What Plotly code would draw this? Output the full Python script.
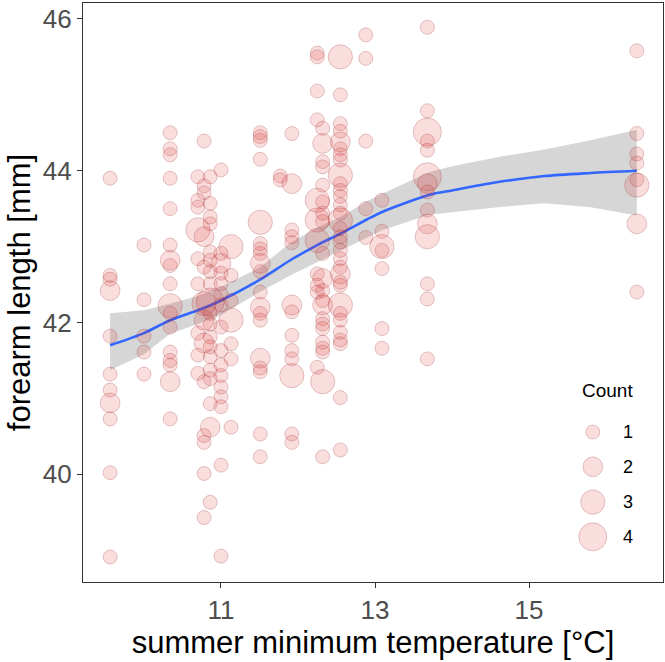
import plotly.graph_objects as go
import numpy as np

# ---- data ----
temperature = (
    [9.56] * 11 + [10.0] * 5 + [10.34] * 17 + [10.7] * 9 + [10.78] * 13 + [10.86] * 19
    + [11.0] * 16 + [11.13] * 7 + [11.51] * 19 + [11.77] * 2 + [11.92] * 13
    + [12.25] * 11 + [12.32] * 21 + [12.55] * 32 + [12.88] * 5 + [13.09] * 7
    + [13.68] * 14 + [16.4] * 8
)
forearm = [
    # 9.56
    43.90, 42.62, 42.57, 42.42, 41.82, 41.32, 41.11, 40.94, 40.73, 40.02, 38.91,
    # 10.0
    43.02, 42.30, 41.82, 41.61, 41.32,
    # 10.34
    44.50, 44.29, 44.21, 43.90, 43.50, 43.02, 42.82, 42.75, 42.51, 42.22, 42.12,
    41.94, 41.61, 41.50, 41.44, 41.22, 40.73,
    # 10.7
    43.92, 43.61, 43.52, 43.22, 42.84, 42.51, 41.86, 41.57, 41.33,
    # 10.78
    44.39, 43.71, 43.13, 42.73, 42.25, 42.03, 41.73, 41.22, 40.51, 40.42, 40.01, 39.43, 43.80,
    # 10.86
    43.92, 43.57, 43.39, 43.30, 42.93, 42.82, 42.67, 42.51, 42.27, 42.12, 41.98,
    41.81, 41.68, 41.55, 41.37, 41.26, 40.93, 40.62, 39.63,
    # 11.0
    44.01, 42.91, 42.78, 42.65, 42.51, 42.38, 42.23, 41.94, 41.63, 41.44, 41.30,
    41.15, 41.02, 40.89, 40.12, 38.92,
    # 11.13
    43.00, 42.62, 42.29, 42.03, 41.72, 41.52, 40.62,
    # 11.51
    44.50, 44.40, 44.15, 43.32, 43.04, 42.97, 42.91, 42.78, 42.67, 42.40, 42.20,
    42.12, 42.03, 41.53, 41.40, 41.35, 40.53, 40.23, 44.45,
    # 11.77
    43.93, 43.88,
    # 11.92
    44.49, 43.83, 43.22, 43.13, 42.23, 42.14, 41.83, 41.63, 41.52, 41.30, 40.53, 40.42, 43.05,
    # 12.25
    45.55, 45.50, 45.05, 44.67, 43.61, 43.35, 43.08, 42.64, 42.49, 42.40, 41.41,
    # 12.32
    44.56, 44.36, 44.12, 44.05, 43.81, 43.59, 43.44, 43.33, 42.91, 42.58, 42.42,
    42.29, 42.23, 42.05, 41.98, 41.92, 41.74, 41.66, 41.61, 41.22, 40.23,
    # 12.55
    45.50, 45.00, 44.62, 44.52, 44.38, 44.29, 44.21, 44.14, 43.94, 43.83, 43.74,
    43.66, 43.55, 43.44, 43.35, 43.24, 43.13, 43.06, 42.95, 42.84, 42.73, 42.64,
    42.53, 42.49, 42.23, 42.12, 42.03, 41.87, 41.77, 41.72, 41.01, 40.32,
    # 12.88
    45.79, 45.48, 44.39, 43.50, 43.12,
    # 13.09
    43.61, 43.20, 43.00, 42.95, 42.71, 41.92, 41.66,
    # 13.68
    45.89, 44.79, 44.51, 44.39, 44.27, 43.92, 43.83, 43.72, 43.48, 43.30, 43.13,
    42.51, 42.31, 41.52,
    # 16.4
    45.58, 44.49, 44.22, 44.10, 43.88, 43.81, 43.30, 42.40,
]
count = [
    1, 1, 1, 2, 1, 1, 1, 2, 1, 1, 1,
    1, 1, 1, 1, 1,
    1, 1, 1, 1, 1, 1, 2, 1, 1, 3, 1, 1, 1, 1, 1, 2, 1,
    1, 1, 1, 3, 1, 1, 1, 1, 1,
    1, 1, 2, 1, 3, 2, 2, 1, 1, 1, 1, 1, 1,
    1, 1, 1, 1, 1, 1, 1, 1, 4, 1, 1, 1, 1, 1, 1, 1, 1, 2, 1,
    1, 1, 2, 1, 1, 1, 1, 1, 1, 1, 1, 1, 1, 1, 1, 1,
    3, 1, 1, 3, 1, 1, 1,
    1, 1, 1, 3, 1, 1, 1, 2, 1, 1, 2, 1, 1, 2, 1, 1, 1, 1, 1,
    1, 1,
    1, 2, 1, 1, 2, 1, 1, 1, 1, 3, 1, 1, 1,
    1, 1, 1, 1, 3, 3, 3, 1, 1, 1, 1,
    1, 2, 1, 1, 1, 1, 1, 1, 1, 2, 1, 1, 2, 1, 1, 1, 1, 1, 1, 3, 1,
    3, 1, 1, 1, 2, 1, 1, 1, 3, 1, 1, 1, 1, 1, 3, 1, 1, 1, 1, 1, 1, 2, 1, 1, 3, 1,
    1, 1, 1, 1, 1, 1,
    1, 1, 1, 1, 1,
    1, 1, 3, 1, 1, 1, 1,
    1, 1, 4, 1, 1, 4, 2, 1, 1, 2, 3, 1, 1, 1,
    1, 1, 1, 1, 1, 3, 2, 1,
]

# loess smooth and its confidence band
smooth_x = [9.56, 10.0, 10.34, 10.7, 11.0, 11.5, 11.9, 12.25, 12.55, 12.9, 13.1,
            13.7, 14.0, 14.6, 15.2, 15.8, 16.4]
smooth_y = [41.70, 41.86, 42.03, 42.16, 42.29, 42.56, 42.82, 43.02, 43.17, 43.36,
            43.46, 43.68, 43.74, 43.85, 43.93, 43.97, 44.00]
ci_lo = [41.37, 41.58, 41.85, 41.98, 42.10, 42.40, 42.62, 42.80, 42.95, 43.12,
         43.22, 43.42, 43.45, 43.52, 43.57, 43.52, 43.41]
ci_hi = [42.12, 42.16, 42.25, 42.35, 42.47, 42.72, 43.05, 43.25, 43.39, 43.60,
         43.70, 43.98, 44.06, 44.18, 44.28, 44.40, 44.54]

legend_counts = [1, 2, 3, 4]
x_ticks = [11, 13, 15]
y_ticks = [40, 42, 44, 46]

# ---- styling ----
FONT = "Liberation Sans, Arial, sans-serif"
BASE_D = 14  # diameter in px for count 1 (area-proportional)
fill_col = "rgba(225,45,45,0.22)"
edge_col = "rgba(150,30,30,0.35)"

def diam(c):
    return BASE_D * np.sqrt(c)

fig = go.Figure()

fig.add_trace(go.Scatter(
    x=smooth_x + smooth_x[::-1], y=ci_hi + ci_lo[::-1],
    fill="toself", fillcolor="rgba(153,153,153,0.4)", line=dict(width=0),
    mode="lines", hoverinfo="skip", showlegend=False,
))
fig.add_trace(go.Scatter(
    x=smooth_x, y=smooth_y, mode="lines",
    line=dict(color="#3366FF", width=2.6, shape="spline", smoothing=0.8),
    showlegend=False,
))
fig.add_trace(go.Scatter(
    x=temperature, y=forearm, mode="markers",
    marker=dict(size=[diam(c) for c in count], sizemode="diameter",
                color=fill_col, line=dict(color=edge_col, width=1)),
    showlegend=False,
))

# manual size legend on an overlay axis (0..1 of the plot area)
leg_y = [0.259, 0.199, 0.138, 0.078]
fig.add_trace(go.Scatter(
    x=[0.879] * len(legend_counts), y=leg_y, mode="markers",
    xaxis="x2", yaxis="y2",
    marker=dict(size=[diam(c) for c in legend_counts], sizemode="diameter",
                color=fill_col, line=dict(color=edge_col, width=1)),
    showlegend=False, hoverinfo="skip",
))
for c, yy in zip(legend_counts, leg_y):
    fig.add_annotation(x=0.928, y=yy, xref="x2", yref="y2", text=str(c),
                       showarrow=False, xanchor="left", yanchor="middle",
                       font=dict(family=FONT, size=18, color="#000000"))
fig.add_annotation(x=0.905, y=0.33, xref="x2", yref="y2", text="Count",
                   showarrow=False, xanchor="center", yanchor="middle",
                   font=dict(family=FONT, size=19, color="#000000"))

axis_common = dict(
    showline=True, linecolor="#333333", linewidth=1.3, mirror=True,
    ticks="outside", ticklen=5, tickcolor="#333333", tickwidth=1.2,
    showgrid=False, zeroline=False, automargin=False,
    tickfont=dict(family=FONT, size=26, color="#4D4D4D"),
)

fig.update_layout(
    width=665, height=662,
    margin=dict(l=83, r=2, t=3, b=80),
    paper_bgcolor="white", plot_bgcolor="white",
    xaxis=dict(range=[9.208, 16.74], tickvals=x_ticks,
               title=dict(text="summer minimum temperature [°C]",
                          font=dict(family=FONT, size=31, color="#000000"),
                          standoff=2),
               **axis_common),
    yaxis=dict(range=[38.58, 46.21], tickvals=y_ticks,
               title=dict(text="forearm length [mm]",
                          font=dict(family=FONT, size=31, color="#000000"),
                          standoff=2),
               **axis_common),
    xaxis2=dict(range=[0, 1], domain=[0, 1], overlaying="x", anchor="y2",
                visible=False, fixedrange=True),
    yaxis2=dict(range=[0, 1], domain=[0, 1], overlaying="y", anchor="x2",
                visible=False, fixedrange=True),
    showlegend=False,
)

fig.write_html("out.html", config={"displayModeBar": False},
               post_script="document.body.style.margin='0';document.body.style.padding='0';")
